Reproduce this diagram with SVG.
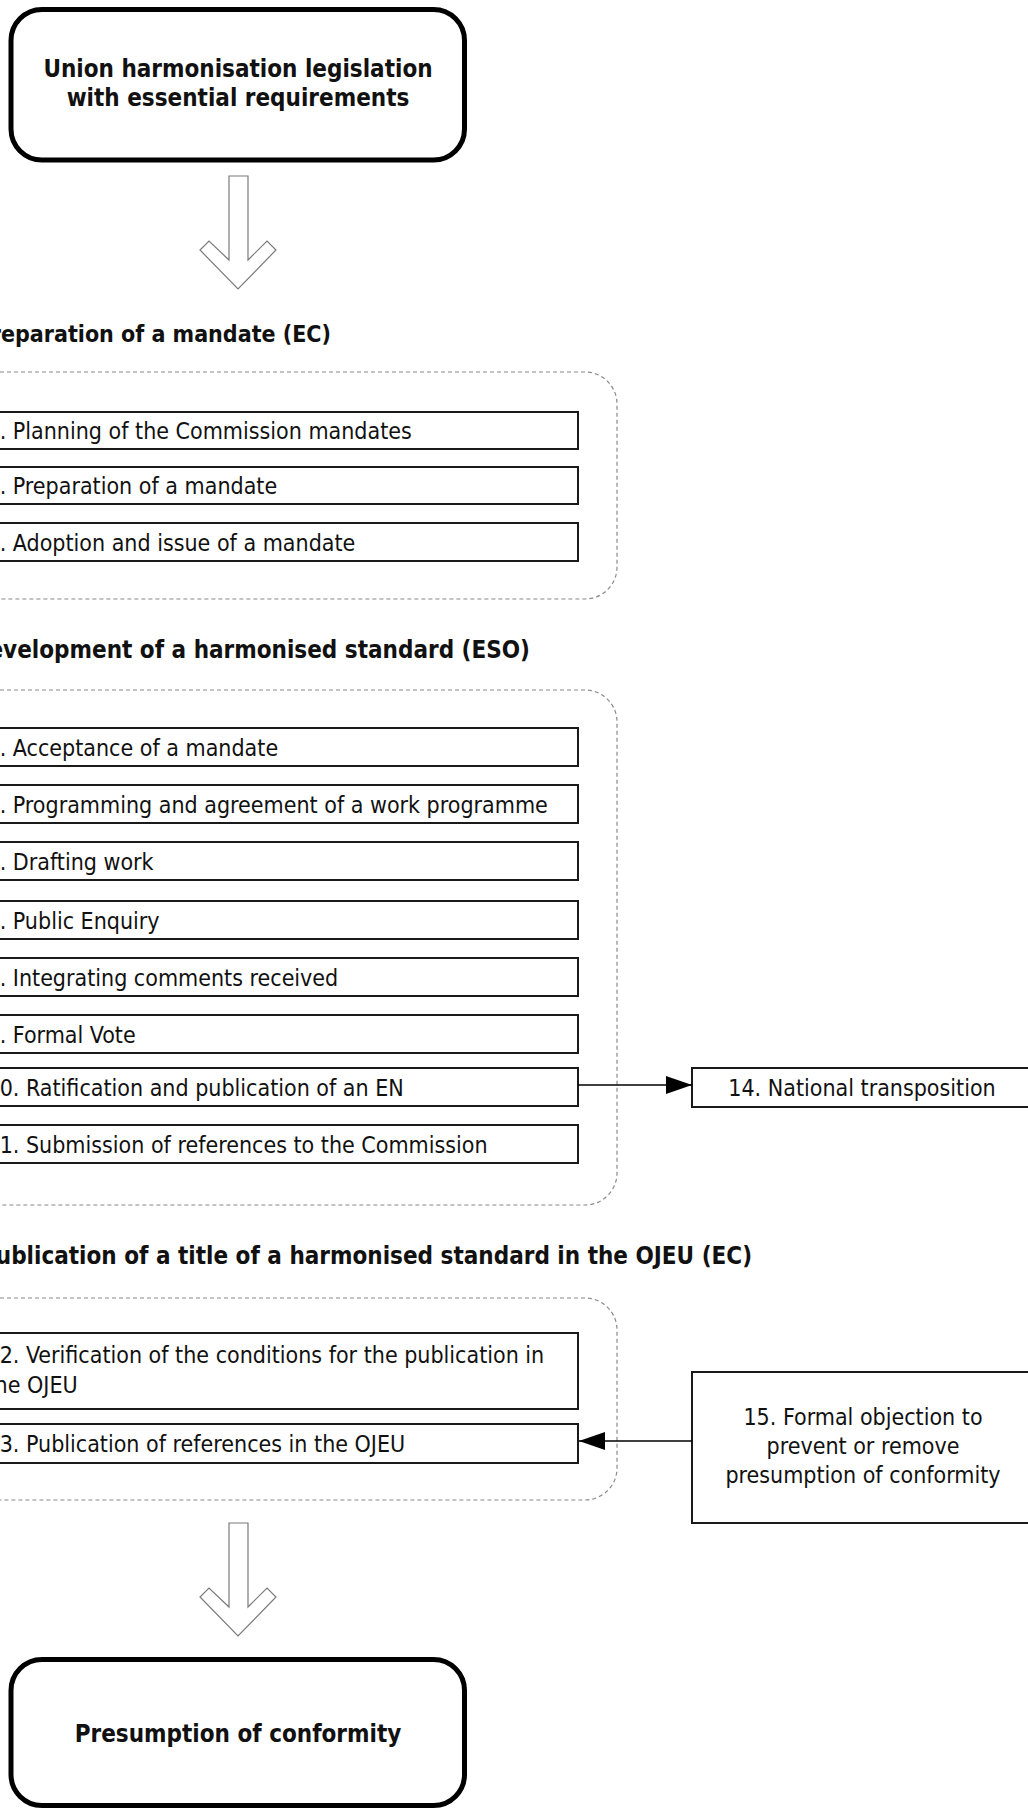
<svg xmlns="http://www.w3.org/2000/svg" width="1028" height="1810" viewBox="0 0 1028 1810">
<style>
  .bg { fill: #ffffff; }
  .term { fill: #ffffff; stroke: #000000; stroke-width: 5; }
  .step { fill: #ffffff; stroke: #1a1a1a; stroke-width: 2; }
  .grp { fill: none; stroke: #8a8a8a; stroke-width: 1.2; stroke-dasharray: 4 3; }
  .big { fill: #ffffff; stroke: #7a7a7a; stroke-width: 1.2; }
  .conn { stroke: #000000; stroke-width: 1.6; fill: none; }
  text { font-family: 'DejaVu Sans Condensed', 'DejaVu Sans', sans-serif; font-stretch: condensed; font-size: 23px; fill: #111111; }
  .b { font-weight: bold; font-size: 24px; }
  .mid { text-anchor: middle; }
  .end { text-anchor: end; }
</style>
<defs>
  <marker id="ah" viewBox="0 0 26 18" refX="26" refY="9" markerWidth="26" markerHeight="18" orient="auto" markerUnits="userSpaceOnUse">
    <path d="M0,0 L26,9 L0,18 z" fill="#000000"/>
  </marker>
</defs>
<rect class="bg" x="0" y="0" width="1028" height="1810"/>

<g id="start">
  <rect class="term" x="11" y="9.5" width="453.5" height="150.5" rx="31"/>
  <text class="b mid" x="238" y="77">Union harmonisation legislation</text>
  <text class="b mid" x="238" y="106">with essential requirements</text>
</g>

<g id="arrow-1">
  <polygon class="big" points="229,176 248,176 248,260 267,241 276,250 238,289 200,250 209,241 229,260"/>
</g>

<g id="group-1">
  <text class="b end" x="331" y="342" style="font-size:23px">Preparation of a mandate (EC)</text>
  <rect class="grp" x="-60" y="372" width="677" height="227" rx="32"/>
</g>
<g id="step-1"><rect class="step" x="-30" y="412" width="608" height="37"/><text x="-13.5" y="439">1. Planning of the Commission mandates</text></g>
<g id="step-2"><rect class="step" x="-30" y="467" width="608" height="37"/><text x="-13.5" y="494">2. Preparation of a mandate</text></g>
<g id="step-3"><rect class="step" x="-30" y="523" width="608" height="38"/><text x="-13.5" y="550.5">3. Adoption and issue of a mandate</text></g>

<g id="group-2">
  <text class="b end" x="530" y="658">Development of a harmonised standard (ESO)</text>
  <rect class="grp" x="-60" y="690" width="677" height="515" rx="32"/>
</g>
<g id="step-4"><rect class="step" x="-30" y="728" width="608" height="38"/><text x="-13.5" y="755.5">4. Acceptance of a mandate</text></g>
<g id="step-5"><rect class="step" x="-30" y="785" width="608" height="38"/><text x="-13.5" y="812.5">5. Programming and agreement of a work programme</text></g>
<g id="step-6"><rect class="step" x="-30" y="842" width="608" height="38"/><text x="-13.5" y="869.5">6. Drafting work</text></g>
<g id="step-7"><rect class="step" x="-30" y="901" width="608" height="38"/><text x="-13.5" y="928.5">7. Public Enquiry</text></g>
<g id="step-8"><rect class="step" x="-30" y="958" width="608" height="38"/><text x="-13.5" y="985.5">8. Integrating comments received</text></g>
<g id="step-9"><rect class="step" x="-30" y="1015" width="608" height="38"/><text x="-13.5" y="1042.5">9. Formal Vote</text></g>
<g id="step-10"><rect class="step" x="-30" y="1068" width="608" height="38"/><text x="-13.5" y="1095.5">10. Ratification and publication of an EN</text></g>
<g id="step-11"><rect class="step" x="-30" y="1125" width="608" height="38"/><text x="-13.5" y="1152.5">11. Submission of references to the Commission</text></g>

<g id="group-3">
  <text class="b end" x="752" y="1264">Publication of a title of a harmonised standard in the OJEU (EC)</text>
  <rect class="grp" x="-60" y="1298" width="677" height="202" rx="32"/>
</g>
<g id="step-12"><rect class="step" x="-30" y="1333" width="608" height="76"/><text x="-13.5" y="1363">12. Verification of the conditions for the publication in</text><text x="-13.5" y="1393">the OJEU</text></g>
<g id="step-13"><rect class="step" x="-30" y="1424" width="608" height="39"/><text x="-13.5" y="1452">13. Publication of references in the OJEU</text></g>

<g id="step-14"><rect class="step" x="692" y="1068" width="340" height="39"/><text class="mid" x="862" y="1096">14. National transposition</text></g>
<g id="step-15"><rect class="step" x="692" y="1372" width="342" height="151"/>
  <text class="mid" x="863" y="1425">15. Formal objection to</text>
  <text class="mid" x="863" y="1454">prevent or remove</text>
  <text class="mid" x="863" y="1483">presumption of conformity</text>
</g>

<g id="connectors">
  <line class="conn" x1="578" y1="1085" x2="692" y2="1085" marker-end="url(#ah)"/>
  <line class="conn" x1="692" y1="1441" x2="579" y2="1441" marker-end="url(#ah)"/>
</g>

<g id="arrow-2">
  <polygon class="big" points="229,1523 248,1523 248,1607 267,1588 276,1597 238,1636 200,1597 209,1588 229,1607"/>
</g>

<g id="end">
  <rect class="term" x="11" y="1659.5" width="453.5" height="146" rx="31"/>
  <text class="b mid" x="238" y="1742">Presumption of conformity</text>
</g>
</svg>
